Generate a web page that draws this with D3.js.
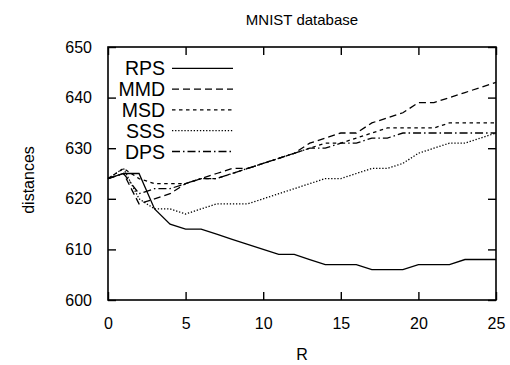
<!DOCTYPE html>
<html>
<head>
<meta charset="utf-8">
<script src="https://cdn.jsdelivr.net/npm/d3@7"></script>
<style>
  body { margin: 0; background: #fff; }
  text { font-family: "Liberation Sans", Arial, sans-serif; fill: #000; }
</style>
</head>
<body>
<svg class="chart"></svg>
<script>
// values, R = 0..25
var rValues = d3.range(0, 26);
var rps = [624, 625, 625, 618, 615, 614, 614, 613, 612, 611, 610, 609, 609, 608, 607, 607, 607, 606, 606, 606, 607, 607, 607, 608, 608, 608];
var mmd = [624, 625, 619, 620, 621, 623, 624, 625, 626, 626, 627, 628, 629, 631, 632, 633, 633, 635, 636, 637, 639, 639, 640, 641, 642, 643];
var msd = [624, 626, 624, 623, 623, 623, 624, 624, 625, 626, 627, 628, 629, 630, 631, 631, 632, 633, 634, 634, 634, 634, 635, 635, 635, 635];
var sss = [624, 626, 620, 618, 618, 617, 618, 619, 619, 619, 620, 621, 622, 623, 624, 624, 625, 626, 626, 627, 629, 630, 631, 631, 632, 633];
var dps = [624, 625, 621, 622, 622, 623, 624, 624, 625, 626, 627, 628, 629, 630, 630, 631, 631, 632, 632, 633, 633, 633, 633, 633, 633, 633];
var seriesNames = ['RPS', 'MMD', 'MSD', 'SSS', 'DPS'];
var xTicks = [0, 5, 10, 15, 20, 25];
var yTicks = [600, 610, 620, 630, 640, 650];

function show() {
    'use strict';

    var margin = { top: 47, bottom: 65, right: 14, left: 108 },
        width = 510 - margin.left - margin.right,
        height = 365 - margin.top - margin.bottom;

    var svg = d3.select('.chart')
        .attr('width', 510)
        .attr('height', 365);

    var chart = svg.append('g')
        .attr('transform', 'translate(' + margin.left + ',' + margin.top + ')');

    var x = d3.scaleLinear().domain([0, 25]).range([0, width]);
    var y = d3.scaleLinear().domain([600, 650]).range([height, 0]);

    // dash styles, gnuplot-like
    var dashes = ['none', '7,4', '3.5,3.5', '1.3,1.8', '8,3,1.5,3'];
    var all = [rps, mmd, msd, sss, dps];

    var line = d3.line()
        .x(function (d, i) { return x(rValues[i]); })
        .y(function (d) { return y(d); });

    chart.selectAll('path.series').data(all)
        .enter()
        .append('path')
        .attr('class', 'series')
        .attr('d', line)
        .attr('fill', 'none')
        .attr('stroke', '#000')
        .attr('stroke-width', 1.3)
        .attr('stroke-dasharray', function (d, i) { return dashes[i]; });

    // axes with inward ticks on every side
    var tickLen = 8;
    var bottom = d3.axisBottom(x).tickValues(xTicks).tickSize(-tickLen).tickPadding(18);
    var top = d3.axisTop(x).tickValues(xTicks).tickSize(-tickLen).tickFormat('');
    var left = d3.axisLeft(y).tickValues(yTicks).tickSize(-tickLen).tickPadding(16);
    var right = d3.axisRight(y).tickValues(yTicks).tickSize(-tickLen).tickFormat('');

    chart.append('g').attr('transform', 'translate(0,' + height + ')').call(bottom);
    chart.append('g').call(top);
    chart.append('g').call(left);
    chart.append('g').attr('transform', 'translate(' + width + ',0)').call(right);

    chart.selectAll('.domain').remove();
    chart.selectAll('.tick line').attr('stroke', '#000').attr('stroke-width', 1.4);
    chart.selectAll('.tick text')
        .style('font-family', '"Liberation Sans", Arial, sans-serif')
        .style('font-size', '16px')
        .attr('fill', '#000');

    // frame
    chart.append('rect')
        .attr('width', width)
        .attr('height', height)
        .attr('fill', 'none')
        .attr('stroke', '#000')
        .attr('stroke-width', 1.6);

    // legend
    var legend = chart.selectAll('g.legend').data(seriesNames)
        .enter()
        .append('g')
        .attr('class', 'legend')
        .attr('transform', function (d, i) { return 'translate(0,' + (21.3 + i * 20.8) + ')'; });

    legend.append('text')
        .attr('x', 57)
        .attr('dy', '.36em')
        .attr('text-anchor', 'end')
        .style('font-size', '19.5px')
        .text(function (d) { return d; });

    legend.append('line')
        .attr('x1', 64)
        .attr('x2', 125)
        .attr('stroke', '#000')
        .attr('stroke-width', 1.3)
        .attr('stroke-dasharray', function (d, i) { return dashes[i]; });

    // titles
    svg.append('text')
        .attr('x', margin.left + width / 2)
        .attr('y', 25)
        .attr('text-anchor', 'middle')
        .style('font-size', '15px')
        .text('MNIST database');

    svg.append('text')
        .attr('x', margin.left + width / 2)
        .attr('y', 360)
        .attr('text-anchor', 'middle')
        .style('font-size', '16px')
        .text('R');

    svg.append('text')
        .attr('transform', 'translate(34,180) rotate(-90)')
        .attr('text-anchor', 'middle')
        .style('font-size', '16px')
        .text('distances');
}

show();
</script>
</body>
</html>
